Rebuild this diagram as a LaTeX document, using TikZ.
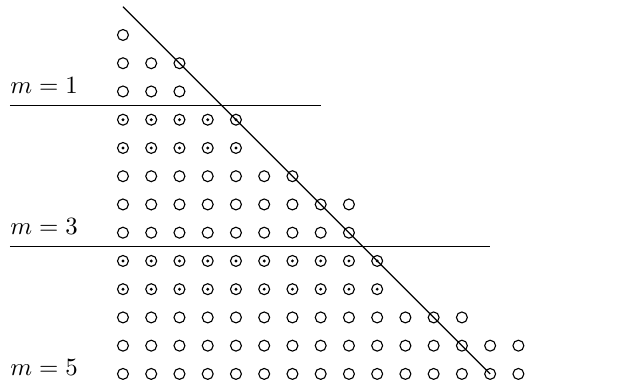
\documentclass[tikz,border=0pt]{standalone}
\usepackage{amsmath}
\usepackage{tikz}

\begin{document}
\begin{tikzpicture}[x=0.4cm,y=0.4cm,
    ring/.style={line width=0.45pt},
    cut/.style={line width=0.45pt},
    lbl/.style={anchor=base west,inner sep=0pt}]
    \useasboundingbox (-4.354,1.239) rectangle (17.81,-12.46);

    % open rows: row/last column
    \foreach \j/\n in {0/0,1/2,2/2,5/6,6/8,7/8,10/12,11/14,12/14}
        \foreach \i in {0,...,\n}
            \draw[ring] (\i,-\j) circle (2.2pt);

    % dotted rows
    \foreach \j/\n in {3/4,4/4,8/9,9/9}
        \foreach \i in {0,...,\n} {
            \draw[ring] (\i,-\j) circle (2.2pt);
            \fill (\i,-\j) circle (0.65pt);
        }

    % levels
    \draw[cut] (-4,-2.5) -- (7,-2.5);
    \draw[cut] (-4,-7.5) -- (13,-7.5);
    \draw[cut] (0,1) -- (13,-12);

    \node[lbl] (mone) at (-4,-2.06) {$m=1$};
    \node[lbl] (mthree) at (-4,-7.06) {$m=3$};
    \node[lbl] (mfive) at (-4,-12.06) {$m=5$};
\end{tikzpicture}
\end{document}
